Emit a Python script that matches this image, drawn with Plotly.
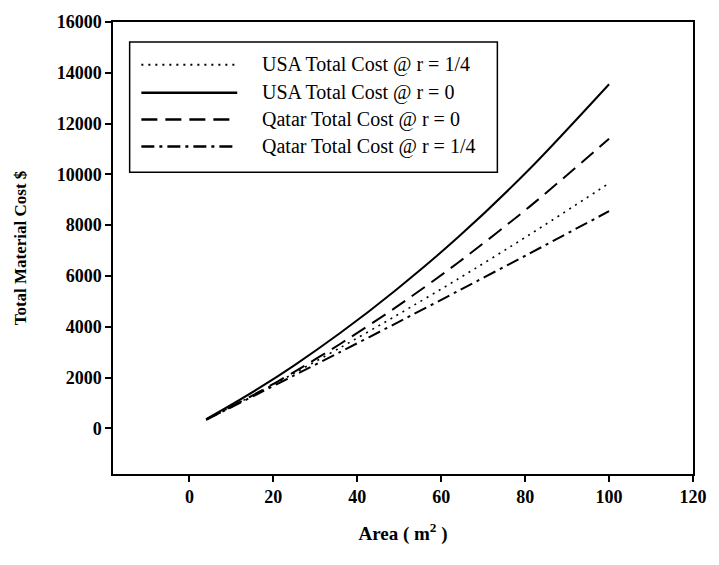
import plotly.graph_objects as go

area = [4, 9, 16, 25, 36, 49, 64, 81, 100]
usa_r14 = [340, 765, 1370, 2170, 3180, 4410, 5880, 7620, 9650]
usa_r0 = [360, 830, 1520, 2480, 3760, 5420, 7520, 10200, 13550]
qatar_r0 = [345, 765, 1380, 2220, 3330, 4740, 6520, 8720, 11400]
qatar_r14 = [335, 750, 1330, 2085, 3010, 4115, 5405, 6880, 8550]

names = ["USA Total Cost @ r = 1/4", "USA Total Cost @ r = 0",
         "Qatar Total Cost @ r = 0", "Qatar Total Cost @ r = 1/4"]
series = [usa_r14, usa_r0, qatar_r0, qatar_r14]
dashes = ["2px,5px", "solid", "16px,8px", "13px,5px,3px,5px"]
widths = [1.6, 2, 2, 2]

x_ticks = [0, 20, 40, 60, 80, 100, 120]
y_ticks = [0, 2000, 4000, 6000, 8000, 10000, 12000, 14000, 16000]

fig = go.Figure()
for nm, ys, d, w in zip(names, series, dashes, widths):
    fig.add_trace(go.Scatter(x=area, y=ys, mode="lines", name=nm, showlegend=False,
                             line=dict(color="black", width=w, dash=d, shape="spline", smoothing=0.8)))

serif = "Liberation Serif, Times New Roman, serif"

# custom legend box
fig.add_shape(type="rect", xref="paper", yref="paper", x0=0.0287, x1=0.6627, y0=0.6674, y1=0.956,
              line=dict(color="black", width=1.5), fillcolor="white", layer="below")
rows = [0.9053, 0.8436, 0.7841, 0.7247]
for nm, d, w, yy in zip(names, dashes, widths, rows):
    fig.add_shape(type="line", xref="paper", yref="paper", x0=0.0489, x1=0.2142, y0=yy, y1=yy,
                  line=dict(color="black", width=w + 0.5, dash=d))
    fig.add_annotation(xref="paper", yref="paper", x=0.253, y=yy, text=nm, showarrow=False,
                       xanchor="left", yanchor="middle", font=dict(family=serif, size=20, color="black"))

fig.update_layout(
    width=719, height=565,
    margin=dict(l=113, r=13, t=20, b=91),
    paper_bgcolor="white", plot_bgcolor="white",
    font=dict(family=serif, color="black"),
    xaxis=dict(range=[-18.2, 120], tickvals=x_ticks, ticktext=[str(v) for v in x_ticks],
               ticks="outside", ticklen=6, tickwidth=1.5, tickcolor="black",
               showline=True, linewidth=1.5, linecolor="black", mirror=True,
               showgrid=False, zeroline=False,
               tickfont=dict(family=serif, size=18, weight="bold"),
               title=dict(text="<b>Area ( m<sup>2</sup> )</b>", font=dict(family=serif, size=19), standoff=20)),
    yaxis=dict(range=[-1800, 16000], tickvals=y_ticks, ticktext=[str(v) for v in y_ticks],
               ticks="outside", ticklen=6, tickwidth=1.5, tickcolor="black",
               showline=True, linewidth=1.5, linecolor="black", mirror=True,
               showgrid=False, zeroline=False,
               tickfont=dict(family=serif, size=18, weight="bold"),
               title=dict(text="<b>Total Material Cost $</b>", font=dict(family=serif, size=17), standoff=26)),
)

fig.write_html("out.html")
